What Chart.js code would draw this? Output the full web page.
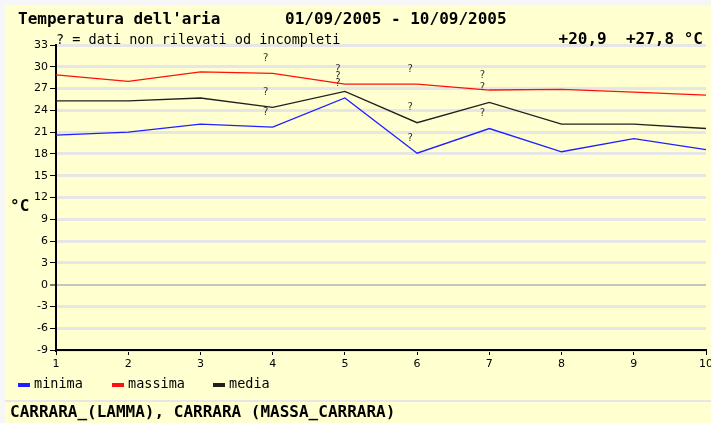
<!DOCTYPE html>
<html>
<head>
<meta charset="utf-8">
<script src="https://cdn.jsdelivr.net/npm/chart.js@4"></script>
<style>
  html, body { margin: 0; padding: 0; background: #fff; }
  canvas { display: block; }
</style>
</head>
<body>
<canvas id="chartTemp" width="711" height="423"></canvas>
<script>
const days = ['1','2','3','4','5','6','7','8','9','10'];
const minima  = [20.6, 21.0, 22.1, 21.7, 25.7, 18.1, 21.5, 18.3, 20.1, 18.6];
const massima = [28.9, 28.0, 29.3, 29.1, 27.6, 27.6, 26.8, 26.9, 26.5, 26.1];
const media   = [25.3, 25.3, 25.7, 24.4, 26.6, 22.3, 25.1, 22.1, 22.1, 21.5];
// giorni con dati non rilevati od incompleti
const incompleti = [false, false, false, true, true, true, true, false, false, false];

const MONO = '"DejaVu Sans Mono", monospace';
const SANS = '"DejaVu Sans", sans-serif';
const BG = '#ffffd0';

const decor = {
    id: 'decor',
    beforeDraw(chart) {
        const ctx = chart.ctx;
        ctx.save();
        ctx.fillStyle = '#f6f6f6';
        ctx.fillRect(0, 0, chart.width, chart.height);
        ctx.fillStyle = BG;
        ctx.fillRect(5, 5, chart.width - 5, chart.height - 5);
        ctx.fillStyle = '#e6e6e6';
        ctx.fillRect(5, 400, chart.width - 5, 2);
        ctx.restore();
    },
    afterDatasetsDraw(chart) {
        const ctx = chart.ctx;
        const x = chart.scales.x, y = chart.scales.y;
        ctx.save();
        ctx.fillStyle = '#000';
        ctx.textBaseline = 'middle';

        ctx.font = 'bold 16px ' + MONO;
        ctx.textAlign = 'left';
        ctx.fillText("Temperatura dell'aria", 18, 20);
        ctx.fillText('01/09/2005 - 10/09/2005', 285, 20);
        ctx.fillText('CARRARA_(LAMMA), CARRARA (MASSA_CARRARA)', 10, 413);
        ctx.fillText('\u00b0C', 10, 207);
        ctx.textAlign = 'right';
        ctx.fillText('+20,9  +27,8 \u00b0C', 703, 40);

        ctx.textAlign = 'left';
        ctx.font = '13.5px ' + MONO;
        ctx.fillText('? = dati non rilevati od incompleti', 56, 40);

        // legenda
        const legX = [18, 112, 213];
        chart.data.datasets.forEach((ds, i) => {
            ctx.fillStyle = ds.borderColor;
            ctx.fillRect(legX[i], 383, 12, 4);
            ctx.fillStyle = '#000';
            ctx.fillText(ds.label, legX[i] + 16, 384);
        });

        // punti interrogativi
        ctx.font = '10px ' + SANS;
        ctx.fillStyle = '#333';
        ctx.textAlign = 'center';
        chart.data.datasets.forEach(ds => {
            ds.data.forEach((v, i) => {
                if (!incompleti[i]) return;
                ctx.fillText('?', x.getPixelForValue(i) - 7, y.getPixelForValue(v) - 15);
            });
        });
        ctx.restore();
    }
};

new Chart(document.getElementById('chartTemp'), {
    type: 'line',
    data: {
        labels: days,
        datasets: [
            { label: 'minima', data: minima, borderColor: '#2020ff', borderWidth: 1.3, pointRadius: 0, tension: 0, fill: false },
            { label: 'massima', data: massima, borderColor: '#ff1010', borderWidth: 1.3, pointRadius: 0, tension: 0, fill: false },
            { label: 'media', data: media, borderColor: '#202020', borderWidth: 1.3, pointRadius: 0, tension: 0, fill: false },
        ]
    },
    plugins: [decor],
    options: {
        responsive: false,
        animation: false,
        layout: { padding: { left: 0, right: 5, top: 45, bottom: 48 } },
        plugins: { legend: { display: false }, tooltip: { enabled: false } },
        scales: {
            x: {
                offset: false,
                afterFit: s => { s.height = 25; s.paddingLeft = 0; s.paddingRight = 0; },
                grid: { drawOnChartArea: false, drawTicks: true, tickLength: 5, tickColor: '#000', offset: false },
                border: { color: '#000', width: 2 },
                ticks: { color: '#000', font: { family: SANS, size: 11 }, padding: 3, maxRotation: 0 }
            },
            y: {
                min: -9,
                max: 33,
                afterFit: s => { s.width = 56; },
                grid: {
                    color: c => c.tick && c.tick.value === 0 ? '#c4c4c4' : '#e6e6e6',
                    lineWidth: c => c.tick && c.tick.value === 0 ? 2 : 3,
                    tickColor: '#000',
                    tickWidth: 1,
                    tickLength: 6
                },
                border: { color: '#000', width: 2 },
                ticks: { stepSize: 3, color: '#000', font: { family: SANS, size: 11 }, padding: 2 }
            }
        }
    }
});
</script>
</body>
</html>
